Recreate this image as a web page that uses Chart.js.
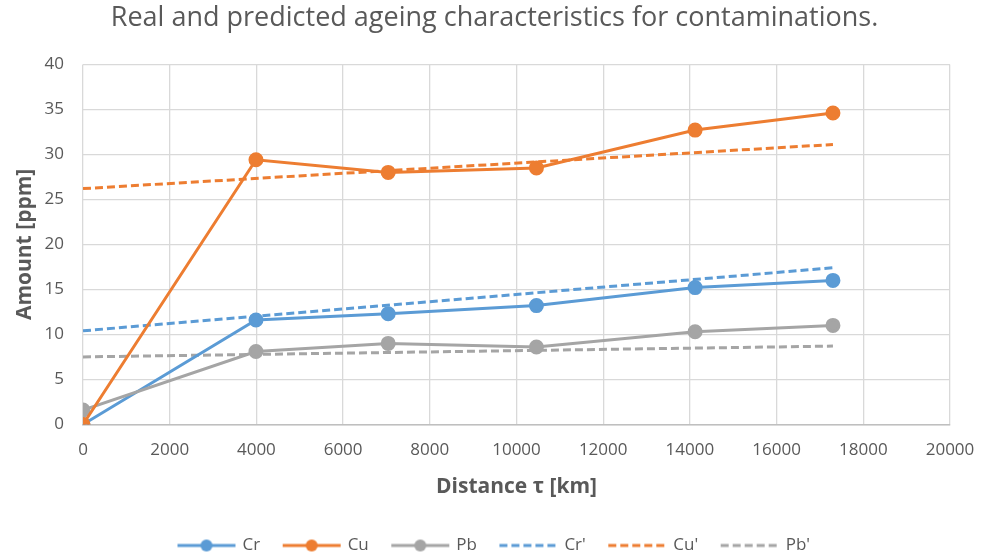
<!DOCTYPE html>
<html><head><meta charset="utf-8">
<script src="https://cdn.jsdelivr.net/npm/chart.js@4.4.0/dist/chart.umd.min.js"></script>
<style>html,body{margin:0;padding:0;background:#fff}#wrap{width:981px;height:555px}</style>
</head><body><div id="wrap"><canvas id="c" width="981" height="555"></canvas></div>
<script>
const distance = [0, 3990, 7040, 10460, 14120, 17300];
const cr = [0, 11.6, 12.3, 13.2, 15.2, 16.0];
const cu = [0, 29.4, 28.0, 28.5, 32.7, 34.6];
const pb = [1.6, 8.1, 9.0, 8.6, 10.3, 11.0];
const trendX = [0, 17300];
const crTrend = [10.4, 17.4];
const cuTrend = [26.2, 31.1];
const pbTrend = [7.5, 8.7];
const xTicks = [0,2000,4000,6000,8000,10000,12000,14000,16000,18000,20000];

const BLUE = '#5b9bd5', ORANGE = '#ed7d31', GRAY = '#a5a5a5', TXT = '#595959';
const pts = (xs, ys) => xs.map((x, i) => ({x, y: ys[i]}));

function legendIcon(color, dashed) {
  const c = document.createElement('canvas');
  c.width = 62; c.height = 14;
  const g = c.getContext('2d');
  g.strokeStyle = color; g.lineWidth = 3;
  if (dashed) g.setLineDash([8, 4]);
  g.beginPath(); g.moveTo(2, 7); g.lineTo(60, 7); g.stroke();
  if (!dashed) { g.fillStyle = color; g.beginPath(); g.arc(31, 7, 6, 0, Math.PI * 2); g.fill(); }
  return c;
}

const mk = (label, data, color, dashed, order) => ({
  label, data, borderColor: color, backgroundColor: color, showLine: true,
  borderWidth: 3, borderDash: dashed ? [8, 4] : [], pointRadius: dashed ? 0 : 6,
  pointHoverRadius: dashed ? 0 : 6, tension: 0, order,
  icon: legendIcon(color, dashed)
});

new Chart(document.getElementById('c'), {
  type: 'scatter',
  data: { datasets: [
    mk('Cr', pts(distance, cr), BLUE, false, 2),
    mk('Cu', pts(distance, cu), ORANGE, false, 0),
    mk('Pb', pts(distance, pb), GRAY, false, 1),
    mk("Cr'", pts(trendX, crTrend), BLUE, true, 3),
    mk("Cu'", pts(trendX, cuTrend), ORANGE, true, 3),
    mk("Pb'", pts(trendX, pbTrend), GRAY, true, 3)
  ]},
  options: {
    responsive: false, animation: false,
    layout: { padding: { left: 8, right: 0, top: 2, bottom: -9 } },
    plugins: {
      title: { display: true, text: 'Real and predicted ageing characteristics for contaminations.',
        color: TXT, font: { family: 'Open Sans', size: 27, weight: 'normal' }, padding: { top: 0, bottom: 30 } },
      legend: { position: 'bottom',
        labels: { usePointStyle: true, pointStyleWidth: 55, color: TXT, padding: 24,
          font: { family: 'Open Sans', size: 17 },
          generateLabels: (chart) => chart.data.datasets.map((d, i) => ({
            text: d.label, pointStyle: d.icon, fontColor: TXT, datasetIndex: i,
            strokeStyle: d.borderColor, fillStyle: d.borderColor, lineWidth: 0, hidden: false
          })) } },
      tooltip: { enabled: false }
    },
    scales: {
      x: { type: 'linear', min: 0, max: 20000,
        afterBuildTicks: (ax) => { ax.ticks = xTicks.map(v => ({value: v})); },
        afterFit: (s) => { s.paddingRight = 31; s.paddingLeft = 0; s.height = s.height - 2; },
        grid: { color: '#d9d9d9', lineWidth: 1.3, drawTicks: false },
        border: { color: '#bfbfbf', width: 1.5 },
        ticks: { color: TXT, font: { family: 'Open Sans', size: 17 }, padding: 16, maxRotation: 0,
          callback: (v) => String(v) },
        title: { display: true, text: 'Distance τ [km]', color: TXT, font: { family: 'Open Sans', size: 21, weight: 'bold' }, padding: { top: 0, bottom: 13 } } },
      y: { min: 0, max: 40,
        afterFit: (s) => { s.width = 75; },
        grid: { color: '#d9d9d9', lineWidth: 1.3, drawTicks: false },
        border: { display: false },
        ticks: { stepSize: 5, color: TXT, font: { family: 'Open Sans', size: 17 }, padding: 19 },
        title: { display: true, text: 'Amount [ppm]', color: TXT, font: { family: 'Open Sans', size: 21, weight: 'bold' }, padding: { top: 4, bottom: 0 } } }
    }
  }
});
</script></body></html>
